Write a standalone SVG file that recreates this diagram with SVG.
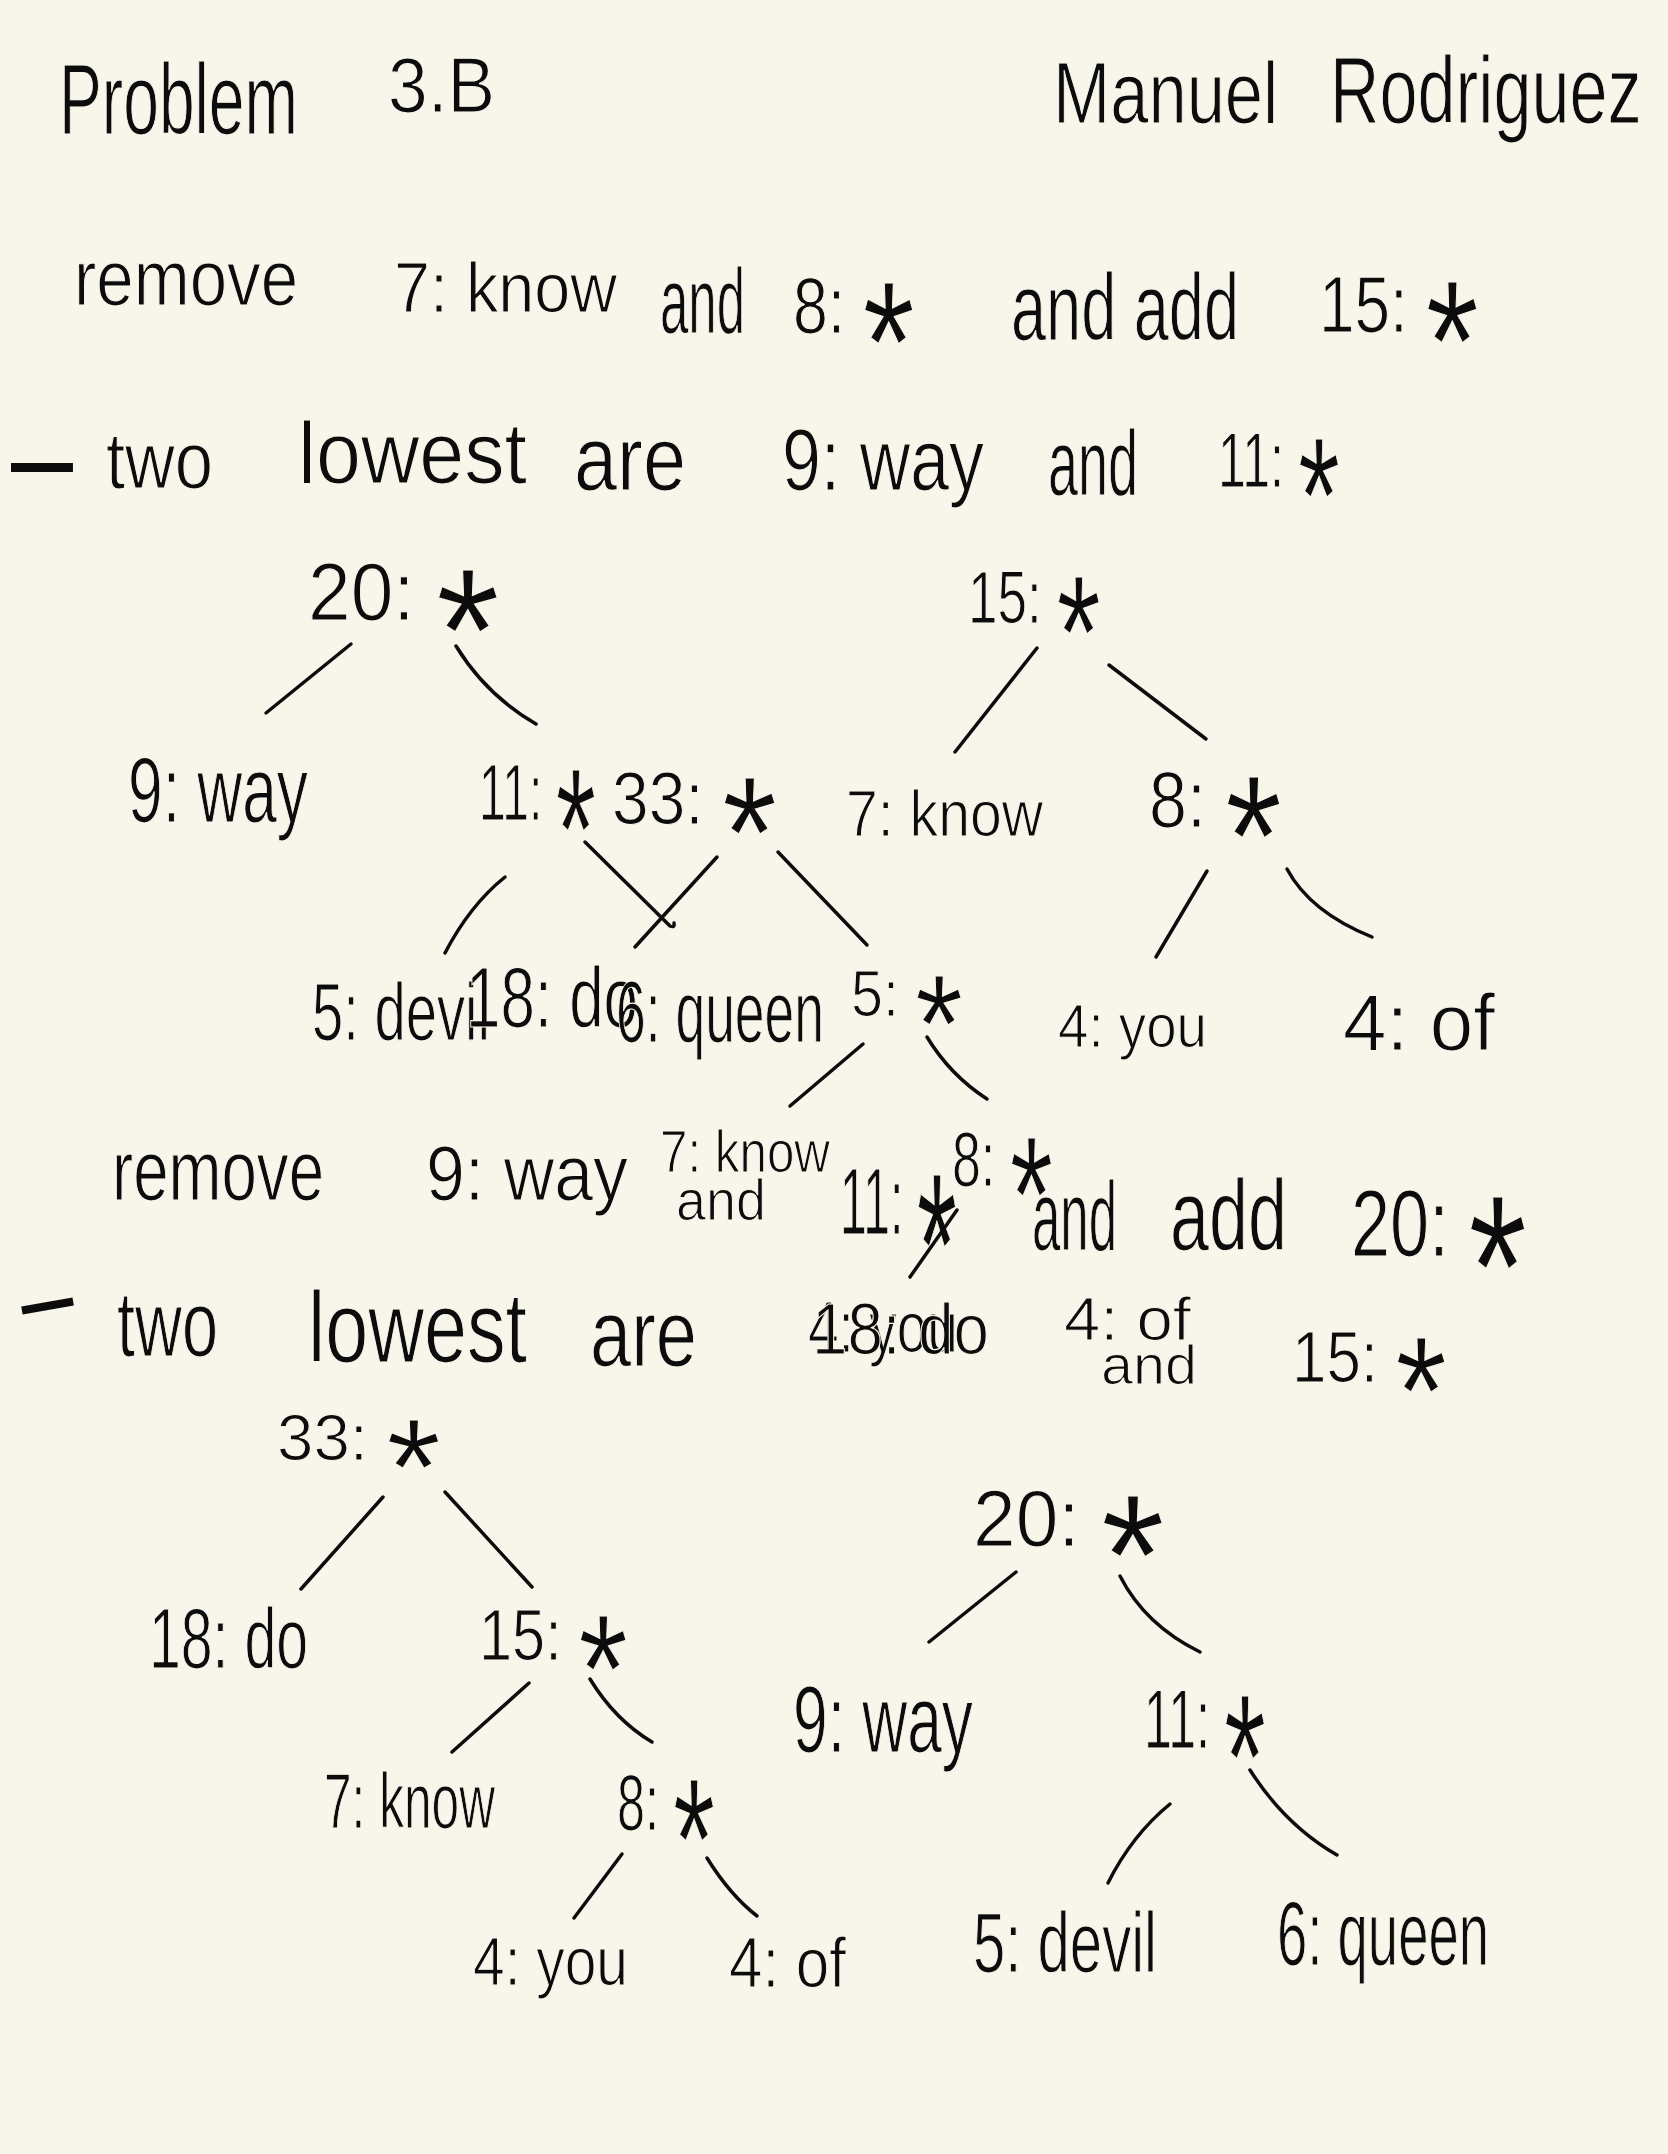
<svg xmlns="http://www.w3.org/2000/svg" width="1668" height="2154" viewBox="0 0 1668 2154">
<style>
text{font-family:"Liberation Sans","DejaVu Sans",Arial,sans-serif;fill:#0c0c0c;stroke:#F8F6EA;stroke-width:1.2px}
.s{font-size:215%}
.d{font-weight:bold;stroke:none}
#connectors line,#connectors path{stroke:#0c0c0c;stroke-width:3.5;stroke-linecap:round;fill:none}
</style>
<rect width="1668" height="2154" fill="#F8F6EA"/>

<g id="header">
<text x="59" y="134" font-size="100" textLength="239" lengthAdjust="spacingAndGlyphs">Problem</text>
<text x="388" y="112" font-size="77" textLength="107" lengthAdjust="spacingAndGlyphs">3.B</text>
<text transform="translate(1053 123) scale(0.79 1)" font-size="87">Manuel</text>
<text transform="translate(1330 123) scale(0.72 1)" font-size="95">Rodriguez</text>
</g>

<g id="step1">
<text x="74" y="305" font-size="78" textLength="224" lengthAdjust="spacingAndGlyphs">remove</text>
<text x="394" y="312" font-size="70" textLength="223" lengthAdjust="spacingAndGlyphs">7: know</text>
<text x="660" y="333" font-size="92" textLength="85" lengthAdjust="spacingAndGlyphs">and</text>
<text x="793" y="333" font-size="80" textLength="122" lengthAdjust="spacingAndGlyphs">8: <tspan class="s" dy="0.4em">*</tspan></text>
<text x="1011" y="340" font-size="95" textLength="228" lengthAdjust="spacingAndGlyphs">and add</text>
<text x="1319" y="332" font-size="80" textLength="160" lengthAdjust="spacingAndGlyphs">15: <tspan class="s" dy="0.4em">*</tspan></text>
<text class="d" x="11" y="492" font-size="90" textLength="62" lengthAdjust="spacingAndGlyphs">—</text>
<text x="106" y="488" font-size="80" textLength="107" lengthAdjust="spacingAndGlyphs">two</text>
<text x="298" y="483" font-size="88" textLength="229" lengthAdjust="spacingAndGlyphs">lowest</text>
<text x="574" y="490" font-size="90" textLength="112" lengthAdjust="spacingAndGlyphs">are</text>
<text x="782" y="490" font-size="88" textLength="202" lengthAdjust="spacingAndGlyphs">9: way</text>
<text x="1048" y="495" font-size="92" textLength="90" lengthAdjust="spacingAndGlyphs">and</text>
<text x="1218" y="487" font-size="77" textLength="122" lengthAdjust="spacingAndGlyphs">11: <tspan class="s" dy="0.4em">*</tspan></text>
</g>

<g id="t1-n20"><text x="308" y="620" font-size="82" textLength="192" lengthAdjust="spacingAndGlyphs">20: <tspan class="s" dy="0.4em">*</tspan></text></g>
<g id="t1-n15"><text x="968" y="623" font-size="75" textLength="133" lengthAdjust="spacingAndGlyphs">15: <tspan class="s" dy="0.4em">*</tspan></text></g>
<g id="t1-n9way"><text x="128" y="822" font-size="92" textLength="180" lengthAdjust="spacingAndGlyphs">9: way</text></g>
<g id="t1-n11"><text x="479" y="820" font-size="80" textLength="117" lengthAdjust="spacingAndGlyphs">11: <tspan class="s" dy="0.4em">*</tspan></text></g>
<g id="t1-n33"><text x="612" y="824" font-size="74" textLength="165" lengthAdjust="spacingAndGlyphs">33: <tspan class="s" dy="0.4em">*</tspan></text></g>
<g id="t1-n7know"><text x="846" y="836" font-size="65" textLength="197" lengthAdjust="spacingAndGlyphs">7: know</text></g>
<g id="t1-n8"><text x="1149" y="827" font-size="80" textLength="133" lengthAdjust="spacingAndGlyphs">8: <tspan class="s" dy="0.4em">*</tspan></text></g>
<g id="t1-n5devil"><text x="312" y="1040" font-size="82" textLength="178" lengthAdjust="spacingAndGlyphs">5: devil</text></g>
<g id="t1-n18do"><text x="466" y="1027" font-size="85" textLength="172" lengthAdjust="spacingAndGlyphs">18: do</text></g>
<g id="t1-n6queen"><text x="616" y="1042" font-size="88" textLength="208" lengthAdjust="spacingAndGlyphs">6: queen</text></g>
<g id="t1-n5"><text x="851" y="1016" font-size="65" textLength="112" lengthAdjust="spacingAndGlyphs">5: <tspan class="s" dy="0.4em">*</tspan></text></g>
<g id="t1-n4you"><text x="1058" y="1047" font-size="62" textLength="149" lengthAdjust="spacingAndGlyphs">4: you</text></g>
<g id="t1-n4of"><text x="1343" y="1050" font-size="80" textLength="152" lengthAdjust="spacingAndGlyphs">4: of</text></g>

<g id="step2">
<text x="112" y="1200" font-size="85" textLength="212" lengthAdjust="spacingAndGlyphs">remove</text>
<text x="426" y="1200" font-size="77" textLength="202" lengthAdjust="spacingAndGlyphs">9: way</text>
<text x="660" y="1172" font-size="60" textLength="170" lengthAdjust="spacingAndGlyphs">7: know</text>
<text x="676" y="1220" font-size="58" textLength="90" lengthAdjust="spacingAndGlyphs">and</text>
<text x="840" y="1234" font-size="95" textLength="117" lengthAdjust="spacingAndGlyphs">11: <tspan class="s" dy="0.4em">*</tspan></text>
<text x="952" y="1186" font-size="77" textLength="101" lengthAdjust="spacingAndGlyphs">8: <tspan class="s" dy="0.4em">*</tspan></text>
<text x="1032" y="1250" font-size="98" textLength="85" lengthAdjust="spacingAndGlyphs">and</text>
<text x="1170" y="1250" font-size="100" textLength="117" lengthAdjust="spacingAndGlyphs">add</text>
<text x="1351" y="1256" font-size="95" textLength="176" lengthAdjust="spacingAndGlyphs">20: <tspan class="s" dy="0.4em">*</tspan></text>
<text class="d" x="21" y="1328" font-size="82" textLength="52" lengthAdjust="spacingAndGlyphs" transform="rotate(-10 47 1303)">—</text>
<text x="117" y="1356" font-size="92" textLength="101" lengthAdjust="spacingAndGlyphs">two</text>
<text x="308" y="1362" font-size="100" textLength="219" lengthAdjust="spacingAndGlyphs">lowest</text>
<text x="590" y="1366" font-size="95" textLength="107" lengthAdjust="spacingAndGlyphs">are</text>
<text x="808" y="1352" font-size="72" textLength="150" lengthAdjust="spacingAndGlyphs">4: you</text>
<text x="812" y="1354" font-size="72" textLength="177" lengthAdjust="spacingAndGlyphs">18: do</text>
<text x="1064" y="1340" font-size="62" textLength="127" lengthAdjust="spacingAndGlyphs">4: of</text>
<text x="1101" y="1384" font-size="55" textLength="96" lengthAdjust="spacingAndGlyphs">and</text>
<text x="1292" y="1382" font-size="72" textLength="155" lengthAdjust="spacingAndGlyphs">15: <tspan class="s" dy="0.4em">*</tspan></text>
</g>

<g id="t2-n33"><text x="277" y="1460" font-size="64" textLength="164" lengthAdjust="spacingAndGlyphs">33: <tspan class="s" dy="0.4em">*</tspan></text></g>
<g id="t2-n18do"><text x="149" y="1668" font-size="86" textLength="159" lengthAdjust="spacingAndGlyphs">18: do</text></g>
<g id="t2-n15"><text x="479" y="1660" font-size="72" textLength="149" lengthAdjust="spacingAndGlyphs">15: <tspan class="s" dy="0.4em">*</tspan></text></g>
<g id="t2-n7know"><text x="324" y="1828" font-size="78" textLength="171" lengthAdjust="spacingAndGlyphs">7: know</text></g>
<g id="t2-n8"><text x="617" y="1830" font-size="80" textLength="98" lengthAdjust="spacingAndGlyphs">8: <tspan class="s" dy="0.4em">*</tspan></text></g>
<g id="t2-n4you"><text x="473" y="1985" font-size="68" textLength="155" lengthAdjust="spacingAndGlyphs">4: you</text></g>
<g id="t2-n4of"><text x="729" y="1987" font-size="70" textLength="117" lengthAdjust="spacingAndGlyphs">4: of</text></g>
<g id="t3-n20"><text x="973" y="1546" font-size="80" textLength="192" lengthAdjust="spacingAndGlyphs">20: <tspan class="s" dy="0.4em">*</tspan></text></g>
<g id="t3-n9way"><text x="793" y="1752" font-size="95" textLength="180" lengthAdjust="spacingAndGlyphs">9: way</text></g>
<g id="t3-n11"><text x="1144" y="1748" font-size="83" textLength="122" lengthAdjust="spacingAndGlyphs">11: <tspan class="s" dy="0.4em">*</tspan></text></g>
<g id="t3-n5devil"><text x="973" y="1972" font-size="85" textLength="184" lengthAdjust="spacingAndGlyphs">5: devil</text></g>
<g id="t3-n6queen"><text x="1277" y="1965" font-size="90" textLength="212" lengthAdjust="spacingAndGlyphs">6: queen</text></g>

<g id="connectors">
<line x1="351" y1="644" x2="266" y2="713"/>
<path d="M456 646 Q486 695 536 724"/>
<line x1="1037" y1="648" x2="955" y2="752"/>
<line x1="1109" y1="665" x2="1206" y2="739"/>
<path d="M505 877 Q470 905 445 953"/>
<path d="M585 842 L670 926 Q675 928 674 923"/>
<line x1="717" y1="857" x2="635" y2="947"/>
<line x1="778" y1="852" x2="867" y2="945"/>
<line x1="1207" y1="871" x2="1156" y2="957"/>
<path d="M1287 869 Q1310 912 1372 937"/>
<line x1="863" y1="1044" x2="790" y2="1106"/>
<path d="M927 1037 Q950 1075 987 1099"/>
<line x1="957" y1="1210" x2="910" y2="1277"/>
<line x1="383" y1="1497" x2="301" y2="1589"/>
<line x1="445" y1="1492" x2="532" y2="1587"/>
<line x1="529" y1="1683" x2="452" y2="1752"/>
<path d="M590 1679 Q615 1720 652 1742"/>
<line x1="622" y1="1854" x2="574" y2="1918"/>
<path d="M707 1858 Q730 1895 757 1916"/>
<line x1="1016" y1="1572" x2="929" y2="1642"/>
<path d="M1120 1576 Q1145 1625 1200 1652"/>
<path d="M1170 1804 Q1132 1835 1108 1883"/>
<path d="M1250 1770 Q1285 1825 1337 1855"/>
</g>
</svg>
